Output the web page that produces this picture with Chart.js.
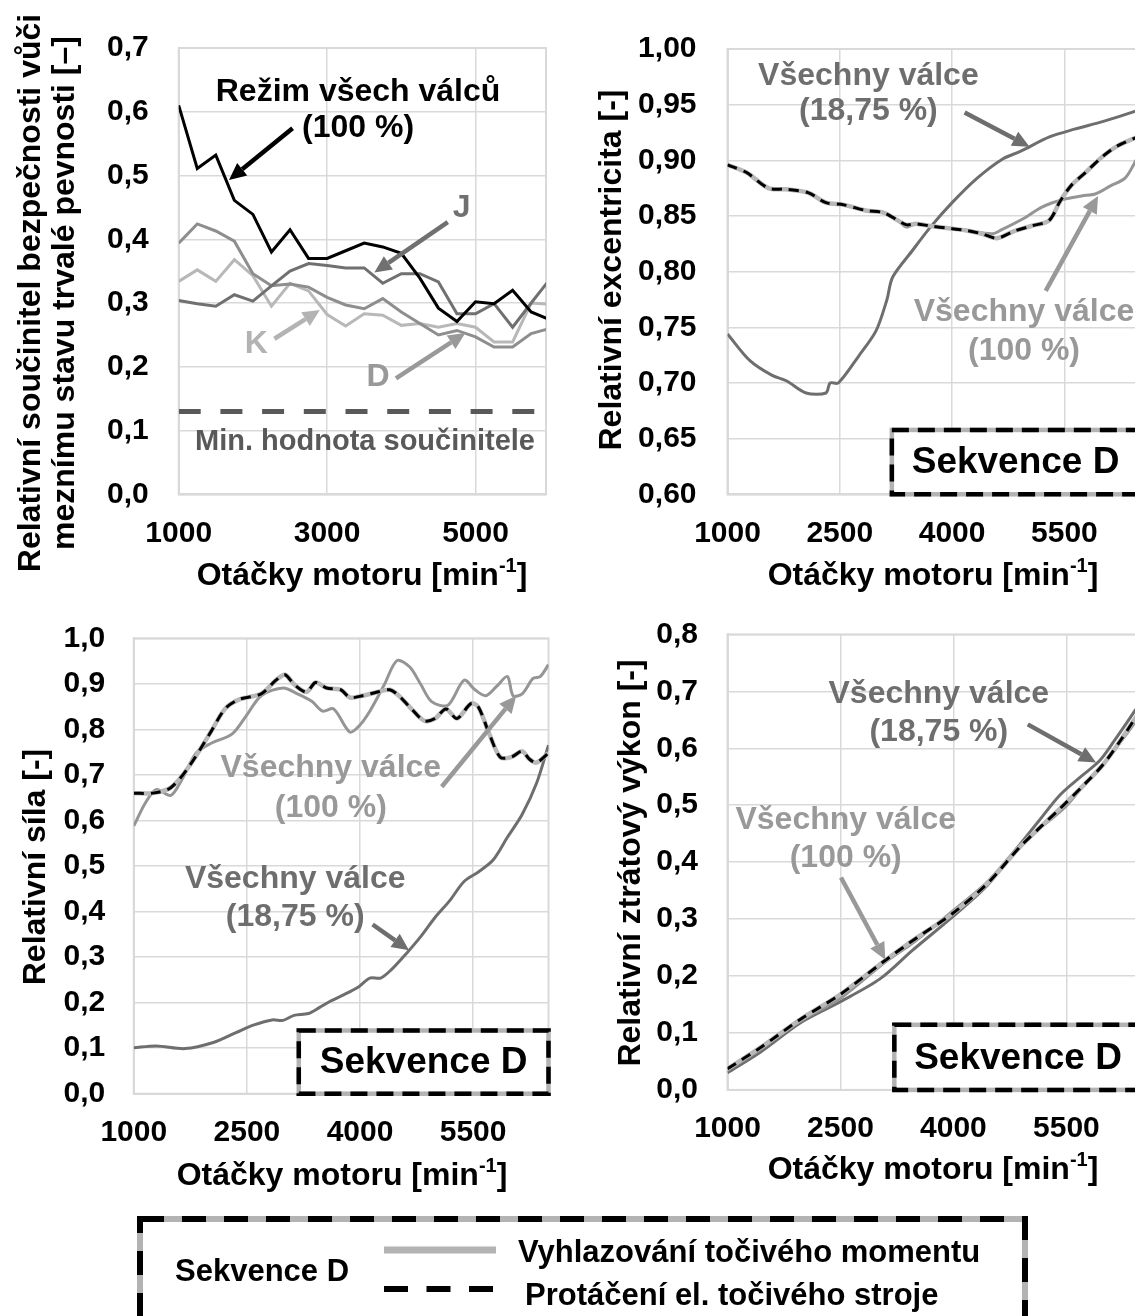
<!DOCTYPE html>
<html lang="cs">
<head>
<meta charset="UTF-8">
<title>Sekvence D</title>
<script src="https://cdn.jsdelivr.net/npm/chart.js"></script>
<style>
  html, body { margin: 0; padding: 0; background: #fff; overflow: hidden; width: 1135px; height: 1316px; }
  canvas { position: absolute; left: 0; top: 0; }
  #legend { position: absolute; left: 0; top: 1200px; }
  #legend text { font-family: "Liberation Sans", Arial, sans-serif; font-weight: bold; font-size: 31px; fill: #000; }
</style>
</head>
<body>
<canvas id="chartA" width="1150" height="1316"></canvas>
<canvas id="chartB" width="1150" height="1316"></canvas>
<canvas id="chartC" width="1150" height="1316"></canvas>
<canvas id="chartD" width="1150" height="1316"></canvas>

<!-- shared legend -->
<svg id="legend" width="1135" height="116">
  <rect x="140" y="19" width="885" height="130" fill="none" stroke="#b3b3b3" stroke-width="6"/>
  <rect x="140" y="19" width="885" height="130" fill="none" stroke="#000" stroke-width="6" stroke-dasharray="24 18"/>
  <text x="175" y="81">Sekvence D</text>
  <line x1="384" y1="50" x2="496" y2="50" stroke="#b3b3b3" stroke-width="7"/>
  <line x1="384" y1="89" x2="494" y2="89" stroke="#000" stroke-width="6" stroke-dasharray="24 18.5"/>
  <text x="518" y="62">Vyhlazování točivého momentu</text>
  <text x="525" y="105">Protáčení el. točivého stroje</text>
</svg>

<script>
// ---- top left: safety factor vs. fatigue limit ----
const rpmA = [1000, 1250, 1500, 1750, 2000, 2250, 2500, 2750, 3000, 3250, 3500,
              3750, 4000, 4250, 4500, 4750, 5000, 5250, 5500, 5750, 6000];
const allCylA = [0.610, 0.511, 0.532, 0.461, 0.439, 0.380, 0.415, 0.370, 0.370, 0.382, 0.394,
                 0.388, 0.378, 0.339, 0.292, 0.271, 0.302, 0.299, 0.320, 0.286, 0.274];
const seqJ = [0.304, 0.299, 0.295, 0.313, 0.303, 0.327, 0.350, 0.362, 0.359, 0.355, 0.355,
              0.331, 0.346, 0.346, 0.333, 0.283, 0.283, 0.299, 0.262, 0.300, 0.337];
const seqD = [0.394, 0.424, 0.413, 0.397, 0.346, 0.327, 0.330, 0.325, 0.309, 0.297, 0.291,
              0.307, 0.286, 0.268, 0.250, 0.257, 0.247, 0.231, 0.231, 0.252, 0.260];
const seqK = [0.334, 0.352, 0.334, 0.368, 0.343, 0.295, 0.331, 0.319, 0.282, 0.264, 0.283,
              0.281, 0.265, 0.268, 0.262, 0.268, 0.262, 0.239, 0.239, 0.300, 0.298];
const minFactor = 0.13;
const xTicksA = [1000, 3000, 5000];
const yTicksA = [0, 0.1, 0.2, 0.3, 0.4, 0.5, 0.6, 0.7];

// ---- top right: relative eccentricity ----
const eccRpm1875 = [1000, 1300, 1590, 1785, 2050, 2315, 2370, 2480, 2750, 2985, 3130, 3205,
                    3470, 3710, 4000, 4335, 4670, 4910, 5300, 5635, 6020, 6440, 6500];
const ecc1875 = [0.744, 0.720, 0.707, 0.702, 0.691, 0.691, 0.700, 0.700, 0.724, 0.747, 0.775, 0.795,
                 0.819, 0.840, 0.862, 0.884, 0.901, 0.908, 0.921, 0.928, 0.935, 0.944, 0.946];
const eccRpm100 = [1000, 1255, 1545, 1785, 2075, 2315, 2555, 2845, 3085, 3275, 3395, 3515, 3710,
                   3950, 4190, 4530, 4670, 4960, 5200, 5490, 5730, 5920, 6115, 6310, 6440, 6500];
const ecc100 = [0.896, 0.889, 0.875, 0.874, 0.871, 0.862, 0.860, 0.855, 0.853, 0.846, 0.840, 0.843, 0.841,
                0.839, 0.837, 0.834, 0.838, 0.848, 0.858, 0.865, 0.868, 0.870, 0.877, 0.884, 0.898, 0.906];
// smoothing and motoring strategies overlap in this panel
const eccRpmSeq = [1000, 1255, 1545, 1785, 2075, 2315, 2555, 2845, 3085, 3275, 3395, 3515, 3710, 3950,
                   4190, 4400, 4600, 4815, 5055, 5295, 5440, 5585, 5780, 6020, 6210, 6440, 6500];
const eccSeq = [0.896, 0.889, 0.875, 0.874, 0.871, 0.862, 0.860, 0.855, 0.853, 0.846, 0.842, 0.843, 0.841, 0.839,
                0.837, 0.834, 0.830, 0.836, 0.841, 0.846, 0.863, 0.877, 0.889, 0.904, 0.913, 0.920, 0.922];
const xTicksR = [1000, 2500, 4000, 5500];
const yTicksB = [0.60, 0.65, 0.70, 0.75, 0.80, 0.85, 0.90, 0.95, 1.00];

// ---- bottom left: relative force ----
const forceRpm1875 = [1000, 1300, 1680, 2065, 2355, 2595, 2835, 2980, 3125, 3315, 3460, 3605, 3795, 3985,
                      4130, 4275, 4420, 4610, 4805, 4995, 5190, 5380, 5570, 5765, 5955, 6150, 6340, 6500];
const force1875 = [0.101, 0.105, 0.099, 0.113, 0.134, 0.151, 0.162, 0.161, 0.172, 0.176, 0.189, 0.203, 0.218, 0.235,
                   0.254, 0.254, 0.273, 0.307, 0.345, 0.387, 0.424, 0.466, 0.487, 0.513, 0.563, 0.613, 0.681, 0.765];
const forceRpm100 = [1000, 1155, 1300, 1490, 1635, 1825, 2020, 2305, 2500, 2690, 2980, 3170, 3365, 3505, 3650,
                     3865, 3985, 4130, 4325, 4490, 4660, 4805, 4950, 5165, 5380, 5525, 5670, 5815, 5955, 6030,
                     6150, 6295, 6390, 6500];
const force100 = [0.588, 0.639, 0.668, 0.655, 0.689, 0.748, 0.769, 0.790, 0.832, 0.874, 0.891, 0.878, 0.861, 0.840, 0.845,
                  0.794, 0.807, 0.840, 0.899, 0.951, 0.937, 0.899, 0.861, 0.853, 0.908, 0.887, 0.874, 0.895, 0.916, 0.874,
                  0.878, 0.912, 0.916, 0.942];
const forceRpmSeq = [1000, 1250, 1490, 1730, 2020, 2210, 2400, 2690, 2885, 3005, 3125, 3290, 3410, 3555, 3745, 3865,
                     4035, 4230, 4395, 4515, 4660, 4850, 4995, 5140, 5285, 5475, 5570, 5715, 5860, 6005, 6150, 6245,
                     6340, 6500];
const forceSeq = [0.660, 0.660, 0.672, 0.718, 0.794, 0.845, 0.866, 0.878, 0.908, 0.920, 0.899, 0.882, 0.903, 0.891, 0.887, 0.870,
                  0.874, 0.882, 0.887, 0.874, 0.849, 0.819, 0.824, 0.845, 0.824, 0.857, 0.849, 0.790, 0.739, 0.739, 0.752, 0.735,
                  0.727, 0.748];
const yTicksC = [0, 0.1, 0.2, 0.3, 0.4, 0.5, 0.6, 0.7, 0.8, 0.9, 1.0];

// ---- bottom right: relative power loss ----
const lossRpm1875 = [1000, 1445, 1970, 2500, 3025, 3455, 3980, 4455, 4840, 5125, 5415, 5700, 5940, 6130, 6410, 6500];
const loss1875 = [0.030, 0.067, 0.118, 0.155, 0.195, 0.245, 0.303, 0.360, 0.424, 0.471, 0.518, 0.551, 0.578, 0.612, 0.666, 0.686];
const lossRpm100 = [1000, 1445, 1970, 2500, 3070, 3500, 3980, 4455, 4885, 5125, 5485, 5750, 5985, 6225, 6410, 6500];
const loss100 = [0.034, 0.072, 0.121, 0.161, 0.222, 0.262, 0.313, 0.366, 0.430, 0.457, 0.497, 0.538, 0.571, 0.612, 0.645, 0.662];
const lossRpmSeq = [1000, 1445, 1970, 2500, 3070, 3500, 3980, 4455, 4885, 5175, 5415, 5750, 5985, 6225, 6410, 6500];
const lossSeq = [0.037, 0.075, 0.124, 0.168, 0.225, 0.266, 0.309, 0.363, 0.427, 0.464, 0.494, 0.538, 0.571, 0.615, 0.652, 0.670];
const yTicksD = [0, 0.1, 0.2, 0.3, 0.4, 0.5, 0.6, 0.7, 0.8];

const FONT = '"Liberation Sans", Arial, sans-serif';
const W = 1150, H = 1316;
const GRID = '#d9d9d9';
const DARK = '#6e6e6e', MID = '#959595', LIGHT = '#b8b8b8';
const X_AXIS_H = 70;

function pts(xs, ys) {
  return xs.map((x, i) => ({ x: x, y: ys[i] }));
}

function drawArrow(ctx, x1, y1, x2, y2, color) {
  const ang = Math.atan2(y2 - y1, x2 - x1);
  const head = 17, half = 8;
  const bx = x2 - head * Math.cos(ang), by = y2 - head * Math.sin(ang);
  ctx.strokeStyle = color;
  ctx.fillStyle = color;
  ctx.lineWidth = 4.5;
  ctx.beginPath(); ctx.moveTo(x1, y1); ctx.lineTo(bx, by); ctx.stroke();
  ctx.beginPath();
  ctx.moveTo(x2, y2);
  ctx.lineTo(bx + half * Math.sin(ang), by - half * Math.cos(ang));
  ctx.lineTo(bx - half * Math.sin(ang), by + half * Math.cos(ang));
  ctx.closePath();
  ctx.fill();
}

// plot frame, "Sekvence D" box, annotations, arrows and axis titles
const notesPlugin = {
  id: 'notes',
  beforeDatasetsDraw(chart) {
    const { ctx, chartArea: a } = chart;
    ctx.save();
    ctx.strokeStyle = GRID;
    ctx.lineWidth = 2;
    ctx.strokeRect(a.left, a.top, a.right - a.left, a.bottom - a.top);
    ctx.restore();
  },
  afterDatasetsDraw(chart, args, opts) {
    const { ctx, chartArea: a } = chart;
    const px = v => chart.scales.x.getPixelForValue(v);
    const py = v => chart.scales.y.getPixelForValue(v);
    ctx.save();
    ctx.textAlign = 'center';
    ctx.textBaseline = 'middle';

    if (opts.box) {
      const l = px(opts.box.x), t = py(opts.box.y);
      ctx.fillStyle = '#fff';
      ctx.fillRect(l, t, a.right - l, a.bottom - t);
      ctx.lineWidth = 4.5;
      ctx.strokeStyle = '#b3b3b3';
      ctx.strokeRect(l, t, a.right - l, a.bottom - t);
      ctx.setLineDash([17, 9]);
      ctx.strokeStyle = '#000';
      ctx.strokeRect(l, t, a.right - l, a.bottom - t);
      ctx.setLineDash([]);
      ctx.fillStyle = '#000';
      ctx.font = 'bold 37px ' + FONT;
      ctx.fillText('Sekvence D', (l + a.right) / 2, (t + a.bottom) / 2 + 1);
    }

    (opts.arrows || []).forEach(ar => {
      drawArrow(ctx, px(ar.from[0]), py(ar.from[1]), px(ar.to[0]), py(ar.to[1]), ar.color);
    });

    (opts.labels || []).forEach(lb => {
      ctx.fillStyle = lb.color;
      ctx.font = 'bold ' + (lb.size || 32) + 'px ' + FONT;
      ctx.fillText(lb.text, px(lb.x), py(lb.y));
    });

    // x title with superscript
    if (opts.xTitle) {
      const main = 'bold 32px ' + FONT, sup = 'bold 20px ' + FONT;
      const p1 = 'Otáčky motoru [min', p2 = '-1', p3 = ']';
      ctx.font = main; const w1 = ctx.measureText(p1).width, w3 = ctx.measureText(p3).width;
      ctx.font = sup; const w2 = ctx.measureText(p2).width;
      let x = opts.xTitle.x - (w1 + w2 + w3) / 2;
      const y = opts.xTitle.y;
      ctx.textAlign = 'left';
      ctx.fillStyle = '#000';
      ctx.font = main; ctx.fillText(p1, x, y); x += w1;
      ctx.font = sup; ctx.fillText(p2, x, y - 10); x += w2;
      ctx.font = main; ctx.fillText(p3, x, y);
      ctx.textAlign = 'center';
    }

    if (opts.yTitle) {
      ctx.fillStyle = '#000';
      ctx.font = 'bold 32px ' + FONT;
      opts.yTitle.lines.forEach((line, i) => {
        ctx.save();
        ctx.translate(opts.yTitle.x[i], opts.yTitle.y);
        ctx.rotate(-Math.PI / 2);
        ctx.fillText(line, 0, 0);
        ctx.restore();
      });
    }
    ctx.restore();
  }
};

function makePanel(id, area, xRange, xTicks, yTicks, decimals, datasets, notes) {
  const tickFont = { family: FONT, size: 30, weight: 'bold' };
  new Chart(document.getElementById(id), {
    type: 'line',
    data: { datasets: datasets },
    options: {
      responsive: false,
      animation: false,
      devicePixelRatio: 1,
      layout: {
        padding: { left: 0, top: area.top, right: W - area.right, bottom: H - area.bottom - X_AXIS_H }
      },
      elements: { point: { radius: 0 } },
      plugins: { legend: { display: false }, tooltip: { enabled: false }, notes: notes },
      scales: {
        x: {
          type: 'linear',
          min: xRange[0],
          max: xRange[1],
          afterBuildTicks: s => { s.ticks = xTicks.map(v => ({ value: v })); },
          afterFit: s => { s.height = X_AXIS_H; },
          grid: { color: GRID, lineWidth: 1.5, drawTicks: false },
          border: { color: GRID, width: 2 },
          ticks: { font: tickFont, color: '#000', padding: 21, maxRotation: 0, autoSkip: false,
                   callback: v => String(v) }
        },
        y: {
          min: yTicks[0],
          max: yTicks[yTicks.length - 1],
          afterBuildTicks: s => { s.ticks = yTicks.map(v => ({ value: v })); },
          afterFit: s => { s.width = area.left; },
          grid: { color: GRID, lineWidth: 1.5, drawTicks: false },
          border: { color: GRID, width: 2 },
          ticks: { font: tickFont, color: '#000', padding: area.tickPad, autoSkip: false,
                   callback: v => v.toFixed(decimals).replace('.', ',') }
        }
      }
    },
    plugins: [notesPlugin]
  });
}

function seqSets(rpm1875, v1875, rpm100, v100, rpmSeq, vSeq, tension) {
  return [
    { data: pts(rpmSeq, vSeq), borderColor: '#000', borderWidth: 3, borderDash: [10, 7], tension: tension },
    { data: pts(rpmSeq, vSeq), borderColor: LIGHT, borderWidth: 4.5, tension: tension },
    { data: pts(rpm100, v100), borderColor: MID, borderWidth: 3, tension: tension },
    { data: pts(rpm1875, v1875), borderColor: DARK, borderWidth: 3, tension: tension }
  ];
}

// top left
makePanel('chartA', { left: 178.7, top: 47, right: 546, bottom: 494.3, tickPad: 30 },
  [1000, 5950], xTicksA, yTicksA, 1,
  [
    { data: pts(rpmA, allCylA), borderColor: '#000', borderWidth: 3 },
    { data: pts(rpmA, seqJ), borderColor: '#707070', borderWidth: 3 },
    { data: pts(rpmA, seqD), borderColor: '#8e8e8e', borderWidth: 3 },
    { data: pts(rpmA, seqK), borderColor: '#b8b8b8', borderWidth: 3 },
    { data: pts([1000, 6000], [minFactor, minFactor]), borderColor: '#595959', borderWidth: 5, borderDash: [22, 19.7] }
  ],
  {
    labels: [
      { text: 'Režim všech válců', x: 3417, y: 0.630, color: '#000' },
      { text: '(100 %)', x: 3417, y: 0.574, color: '#000' },
      { text: 'J', x: 4812, y: 0.448, color: '#707070' },
      { text: 'K', x: 2045, y: 0.235, color: '#b3b3b3' },
      { text: 'D', x: 3686, y: 0.184, color: '#999999' },
      { text: 'Min. hodnota součinitele', x: 3511, y: 0.0824, color: '#595959', size: 29 }
    ],
    arrows: [
      { from: [2535, 0.574], to: [1678, 0.493], color: '#000' },
      { from: [4626, 0.427], to: [3637, 0.348], color: '#707070' },
      { from: [2290, 0.244], to: [2903, 0.289], color: '#b3b3b3' },
      { from: [3928, 0.182], to: [4863, 0.253], color: '#999999' }
    ],
    xTitle: { x: 362, y: 576 },
    yTitle: { lines: ['Relativní součinitel bezpečnosti vůči', 'meznímu stavu trvalé pevnosti [–]'], x: [31, 65], y: 293 }
  });

// top right
makePanel('chartB', { left: 727.5, top: 45, right: 1139.3, bottom: 494.3, tickPad: 31 },
  [1000, 6500], xTicksR, yTicksB, 2,
  seqSets(eccRpm1875, ecc1875, eccRpm100, ecc100, eccRpmSeq, eccSeq, 0.3),
  {
    box: { x: 3195, y: 0.6578 },
    labels: [
      { text: 'Všechny válce', x: 2882, y: 0.9753, color: DARK },
      { text: '(18,75 %)', x: 2882, y: 0.9446, color: DARK },
      { text: 'Všechny válce', x: 4960, y: 0.764, color: '#999999' },
      { text: '(100 %)', x: 4960, y: 0.7285, color: '#999999' }
    ],
    arrows: [
      { from: [4167, 0.943], to: [5034, 0.9123], color: DARK },
      { from: [5250, 0.7828], to: [5949, 0.868], color: '#999999' }
    ],
    xTitle: { x: 933, y: 576 },
    yTitle: { lines: ['Relativní excentricita [-]'], x: [612.5], y: 270 }
  });

// bottom left
makePanel('chartC', { left: 133.8, top: 638.3, right: 548.5, bottom: 1093.7, tickPad: 28.5 },
  [1000, 6500], xTicksR, yTicksC, 1,
  seqSets(forceRpm1875, force1875, forceRpm100, force100, forceRpmSeq, forceSeq, 0.3),
  {
    box: { x: 3188, y: 0.1388 },
    labels: [
      { text: 'Všechny válce', x: 3613, y: 0.714, color: '#999999' },
      { text: '(100 %)', x: 3613, y: 0.626, color: '#999999' },
      { text: 'Všechny válce', x: 3141, y: 0.4706, color: DARK },
      { text: '(18,75 %)', x: 3141, y: 0.3867, color: DARK }
    ],
    arrows: [
      { from: [5084, 0.674], to: [6072, 0.874], color: '#999999' },
      { from: [4167, 0.3715], to: [4650, 0.3151], color: DARK }
    ],
    xTitle: { x: 342, y: 1176 },
    yTitle: { lines: ['Relativní síla [-]'], x: [36.4], y: 867 }
  });

// bottom right
makePanel('chartD', { left: 727.5, top: 634.4, right: 1141.7, bottom: 1089.9, tickPad: 29.5 },
  [1000, 6500], xTicksR, yTicksD, 1,
  seqSets(lossRpm1875, loss1875, lossRpm100, loss100, lossRpmSeq, lossSeq, 0.3),
  {
    box: { x: 3215, y: 0.1143 },
    labels: [
      { text: 'Všechny válce', x: 3806, y: 0.6956, color: DARK },
      { text: '(18,75 %)', x: 3806, y: 0.6286, color: DARK },
      { text: 'Všechny válce', x: 2570, y: 0.474, color: '#999999' },
      { text: '(100 %)', x: 2570, y: 0.4067, color: '#999999' }
    ],
    arrows: [
      { from: [4987, 0.642], to: [5894, 0.5748], color: DARK },
      { from: [2507, 0.373], to: [3096, 0.2287], color: '#999999' }
    ],
    xTitle: { x: 933, y: 1170 },
    yTitle: { lines: ['Relativní ztrátový výkon [-]'], x: [631.3], y: 863 }
  });
</script>
</body>
</html>
